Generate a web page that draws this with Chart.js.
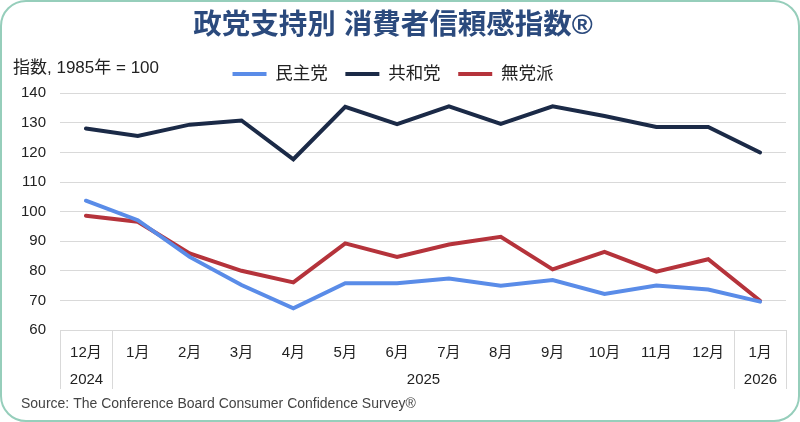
<!DOCTYPE html>
<html lang="ja">
<head>
  <meta charset="UTF-8">
  <title>政党支持別 消費者信頼感指数</title>
  <script src="https://cdn.jsdelivr.net/npm/chart.js@4.4.1/dist/chart.umd.min.js"></script>
  <style>
    body {
      margin: 0;
      background: #ffffff;
    }

    .card {
      position: relative;
      width: 800px;
      height: 422px;
      background: #ffffff;
    }

    .card::after {
      content: '';
      position: absolute;
      left: 0; top: 0; right: 0; bottom: 0;
      border: 2.5px solid #96cebb;
      border-radius: 26px;
      pointer-events: none;
    }

    canvas {
      position: absolute;
      left: 0;
      top: 0;
    }
  </style>
</head>
<body>
  <div class="card">
    <canvas id="chart" width="800" height="422"></canvas>
  </div>

  <script>
    // データ
    const months = ['12月', '1月', '2月', '3月', '4月', '5月', '6月', '7月', '8月', '9月', '10月', '11月', '12月', '1月'];
    // 年ラベル: [ラベル, 最初の月の位置, 最後の月の位置]
    const yearGroups = [['2024', 0, 0], ['2025', 1, 12], ['2026', 13, 13]];
    const yMin = 60;
    const yMax = 140;
    const yStep = 10;

    const democrats    = [103.7, 97.1, 84.7, 75.2, 67.3, 75.8, 75.8, 77.4, 75.0, 76.9, 72.2, 75.0, 73.7, 69.6];
    const republicans  = [128.1, 125.6, 129.4, 130.8, 117.7, 135.4, 129.6, 135.6, 129.7, 135.6, 132.3, 128.6, 128.6, 120.0];
    const independents = [98.6, 96.6, 85.9, 80.0, 76.1, 89.3, 84.7, 88.9, 91.5, 80.5, 86.4, 79.7, 83.9, 69.9];

    const seriesNames  = ['民主党', '共和党', '無党派'];
    const seriesColors = ['#5a8ce8', '#1b2a47', '#b5333b'];

    const FONT = "'Liberation Sans', Arial, 'Noto Sans CJK JP', sans-serif";

    // x軸の下の枠線と年ラベル
    const axisBox = {
      id: 'axisBox',
      afterDraw(chart) {
        const x = chart.scales.x;
        const ctx = chart.ctx;
        const step = x.getPixelForValue(1) - x.getPixelForValue(0);
        const top = chart.chartArea.bottom;
        const bottom = top + 59;
        ctx.save();
        ctx.strokeStyle = '#d9d9d9';
        ctx.lineWidth = 1;
        ctx.fillStyle = '#222222';
        ctx.font = '15px ' + FONT;
        ctx.textAlign = 'center';
        ctx.textBaseline = 'middle';
        yearGroups.forEach(([label, a, b], i) => {
          const left = Math.round(x.getPixelForValue(a) - step / 2) + 0.5;
          const right = Math.round(x.getPixelForValue(b) + step / 2) + 0.5;
          ctx.beginPath();
          ctx.moveTo(left, top);
          ctx.lineTo(left, bottom);
          if (i === yearGroups.length - 1) {
            ctx.moveTo(right, top);
            ctx.lineTo(right, bottom);
          }
          ctx.stroke();
          ctx.fillText(label, (left + right) / 2, top + 50);
        });
        ctx.restore();
      }
    };

    // 左上の単位ラベルと出典
    const extraText = {
      id: 'extraText',
      afterDraw(chart) {
        const ctx = chart.ctx;
        ctx.save();
        ctx.textBaseline = 'middle';
        ctx.fillStyle = '#222222';
        ctx.font = '17px ' + FONT;
        ctx.fillText('指数, 1985年 = 100', 13, 68);
        ctx.fillStyle = '#444444';
        ctx.font = '14px ' + FONT;
        ctx.fillText('Source: The Conference Board Consumer Confidence Survey®', 21, 404);
        ctx.restore();
      }
    };

    // 凡例とグラフの間隔
    const legendGap = {
      id: 'legendGap',
      beforeInit(chart) {
        const fit = chart.legend.fit;
        chart.legend.fit = function () {
          fit.bind(chart.legend)();
          this.height += 0.5;
        };
      }
    };

    const datasets = [democrats, republicans, independents].map((data, i) => ({
      label: seriesNames[i],
      data: data,
      borderColor: seriesColors[i],
      backgroundColor: seriesColors[i],
      borderWidth: 4,
      borderCapStyle: 'round',
      pointRadius: 0,
      tension: 0
    }));

    new Chart(document.getElementById('chart'), {
      type: 'line',
      data: { labels: months, datasets: datasets },
      plugins: [axisBox, extraText, legendGap],
      options: {
        responsive: false,
        animation: false,
        layout: { padding: { left: 0, right: 14, top: 0, bottom: 30 } },
        plugins: {
          title: {
            display: true,
            text: '政党支持別 消費者信頼感指数®',
            color: '#2b4a7d',
            font: { family: FONT, size: 28.5, weight: 'bold' },
            padding: { top: 9, bottom: 4.5 }
          },
          legend: {
            labels: {
              color: '#222222',
              font: { family: FONT, size: 17.5 },
              usePointStyle: true,
              pointStyle: 'line',
              pointStyleWidth: 34,
              padding: 17.6
            }
          },
          tooltip: { enabled: false }
        },
        scales: {
          x: {
            offset: true,
            afterFit(scale) { scale.height = 62; },
            grid: { display: false },
            border: { display: false },
            ticks: {
              color: '#222222',
              font: { family: FONT, size: 15 },
              maxRotation: 0,
              autoSkip: false,
              padding: 6
            }
          },
          y: {
            min: yMin,
            max: yMax,
            afterFit(scale) { scale.width = 60; },
            grid: { color: '#d9d9d9', drawTicks: false },
            border: { display: false },
            ticks: {
              stepSize: yStep,
              color: '#222222',
              font: { family: FONT, size: 15 },
              padding: 14
            }
          }
        }
      }
    });
  </script>
</body>
</html>
